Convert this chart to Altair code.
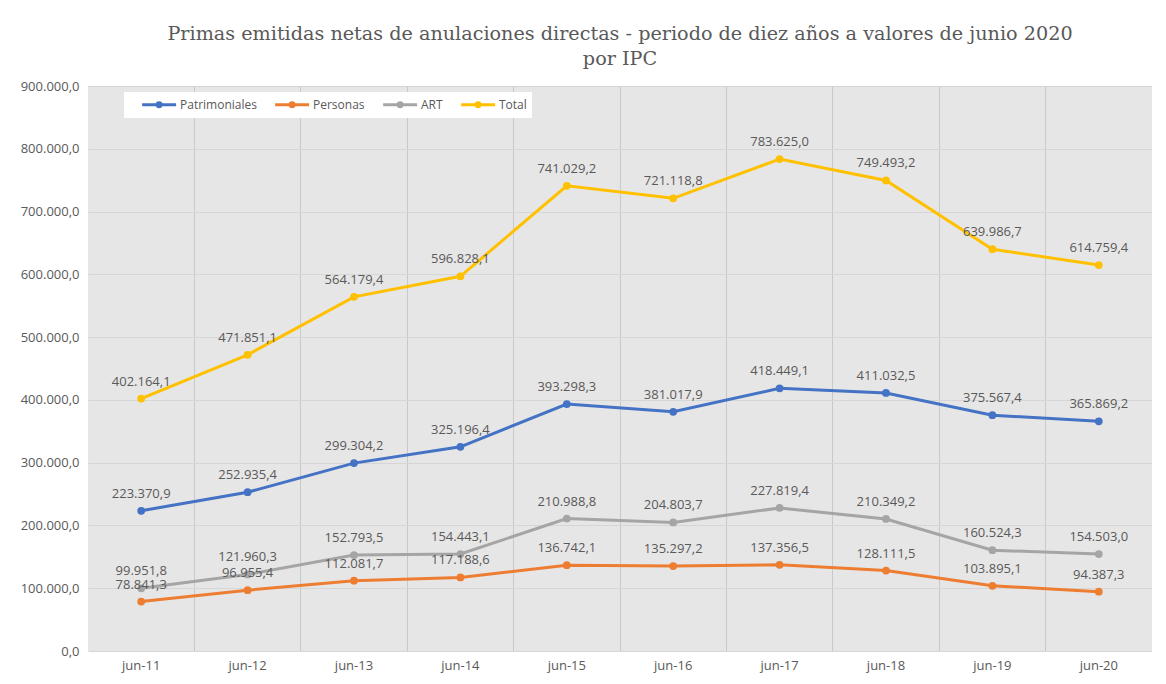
import altair as alt
import pandas as pd

periods = ["jun-11", "jun-12", "jun-13", "jun-14", "jun-15", "jun-16", "jun-17", "jun-18", "jun-19", "jun-20"]
series_names = ["Patrimoniales", "Personas", "ART", "Total"]
patrimoniales = [223370.9, 252935.4, 299304.2, 325196.4, 393298.3, 381017.9, 418449.1, 411032.5, 375567.4, 365869.2]
personas = [78841.3, 96955.4, 112081.7, 117188.6, 136742.1, 135297.2, 137356.5, 128111.5, 103895.1, 94387.3]
art = [99951.8, 121960.3, 152793.5, 154443.1, 210988.8, 204803.7, 227819.4, 210349.2, 160524.3, 154503.0]
total = [402164.1, 471851.1, 564179.4, 596828.1, 741029.2, 721118.8, 783625.0, 749493.2, 639986.7, 614759.4]
colors = ["#4472C4", "#ED7D31", "#A5A5A5", "#FFC000"]
y_ticks = [0, 100000, 200000, 300000, 400000, 500000, 600000, 700000, 800000, 900000]


def es_fmt(v):
    s = f"{v:,.1f}"
    return s.replace(",", "_").replace(".", ",").replace("_", ".")


rows = []
for name, vals in zip(series_names, [patrimoniales, personas, art, total]):
    for i, (p, v) in enumerate(zip(periods, vals)):
        rows.append({"periodo": p, "serie": name, "valor": v, "label": es_fmt(v), "orden": i})
df = pd.DataFrame(rows)

FONT = "Open Sans"
TXT = "#595959"

# legend glyph: a line with a dot, drawn to the right of the symbol anchor
legend_path = "M1,0H7M4.35,0A0.35,0.35,0,1,1,3.65,0A0.35,0.35,0,1,1,4.35,0"

x_enc = alt.X(
    "periodo:N",
    sort=periods,
    title=None,
    scale=alt.Scale(type="band", paddingInner=0, paddingOuter=0),
    axis=alt.Axis(
        labelAngle=0,
        ticks=False,
        domain=False,
        grid=True,
        bandPosition=0,
        gridColor="#C9C9C9",
        gridWidth=1,
        gridOpacity={"condition": {"test": "datum.value === 'jun-11'", "value": 0}, "value": 1},
        labelFont=FONT,
        labelFontSize=13,
        labelColor=TXT,
        labelPadding=8,
    ),
)
y_enc = alt.Y(
    "valor:Q",
    title=None,
    scale=alt.Scale(domain=[0, 900000], nice=False),
    axis=alt.Axis(
        values=y_ticks,
        ticks=False,
        domain=False,
        grid=True,
        gridColor="#D6D6D6",
        labelFont=FONT,
        labelFontSize=13,
        labelColor=TXT,
        labelPadding=9,
        labelExpr="replace(replace(replace(format(datum.value, ',.1f'), ',', '_'), '.', ','), '_', '.')",
    ),
)
color_scale = alt.Scale(domain=series_names, range=colors)

base = alt.Chart(df)

lines = base.mark_line(strokeWidth=3).encode(
    x=x_enc,
    y=y_enc,
    color=alt.Color(
        "serie:N",
        scale=color_scale,
        sort=series_names,
        legend=alt.Legend(
            title=None,
            orient="none",
            legendX=36,
            legendY=6,
            direction="horizontal",
            fillColor="white",
            padding=5,
            symbolType=legend_path,
            symbolSize=128,
            symbolStrokeWidth=3,
            labelFont=FONT,
            labelFontSize=12,
            labelColor=TXT,
            labelOffset=36,
            columnPadding=5,
        ),
    ),
    order=alt.Order("orden:Q"),
)

points = base.mark_point(filled=True, size=60, opacity=1).encode(
    x=x_enc,
    y=y_enc,
    color=alt.Color("serie:N", scale=color_scale, legend=None),
)

labels = base.mark_text(dy=-17, fontSize=13, font=FONT, color=TXT, baseline="middle", align="center").encode(
    x=x_enc,
    y=y_enc,
    text="label:N",
)

chart = (
    alt.layer(lines, points, labels)
    .properties(
        width=1064,
        height=565,
        background="white",
        padding={"left": 12, "right": 0, "top": 16, "bottom": 2},
        title=alt.TitleParams(
            text=["Primas emitidas netas de anulaciones directas - periodo de diez años a valores de junio 2020", "por IPC"],
            font="DejaVu Serif",
            fontSize=19.2,
            fontWeight="normal",
            color=TXT,
            lineHeight=25,
            anchor="middle",
            offset=11,
        ),
    )
    .configure_view(fill="#E7E6E6", stroke=None)
)

chart.save("out.html", embed_options={"renderer": "svg", "actions": False})
